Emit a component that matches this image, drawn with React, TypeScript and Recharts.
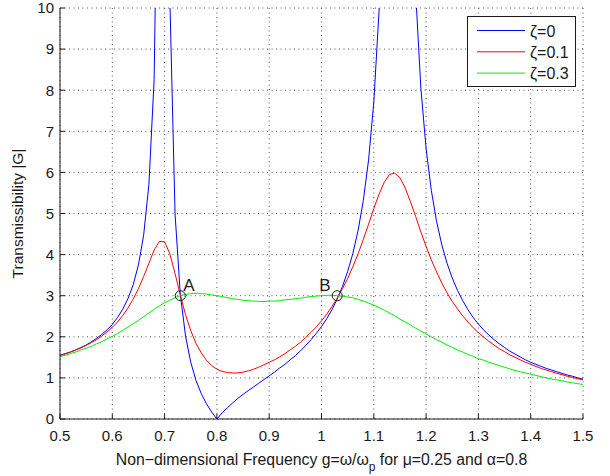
import React from 'react';
import { LineChart, Line, XAxis, YAxis, CartesianGrid, Legend, ReferenceDot, Label } from 'recharts';

// Non-dimensional frequency g = omega / omega_p
const frequencies = [
  0.5, 0.51, 0.52, 0.53, 0.54, 0.55, 0.56, 0.57, 0.58, 0.59,
  0.6, 0.61, 0.62, 0.63, 0.64, 0.65, 0.66, 0.67, 0.68, 0.69,
  0.7, 0.71, 0.72, 0.73, 0.74, 0.75, 0.76, 0.77, 0.78, 0.79,
  0.8, 0.81, 0.82, 0.83, 0.84, 0.85, 0.86, 0.87, 0.88, 0.89,
  0.9, 0.91, 0.92, 0.93, 0.94, 0.95, 0.96, 0.97, 0.98, 0.99,
  1.0, 1.01, 1.02, 1.03, 1.04, 1.05, 1.06, 1.07, 1.08, 1.09,
  1.1, 1.11, 1.12, 1.13, 1.14, 1.15, 1.16, 1.17, 1.18, 1.19,
  1.2, 1.21, 1.22, 1.23, 1.24, 1.25, 1.26, 1.27, 1.28, 1.29,
  1.3, 1.31, 1.32, 1.33, 1.34, 1.35, 1.36, 1.37, 1.38, 1.39,
  1.4, 1.41, 1.42, 1.43, 1.44, 1.45, 1.46, 1.47, 1.48, 1.49,
  1.5,
];

// Transmissibility |G|, zeta = 0
const zeta0 = [
  1.55, 1.59, 1.63, 1.68, 1.74, 1.8, 1.88, 1.96, 2.06, 2.17,
  2.3, 2.47, 2.67, 2.93, 3.27, 3.75, 4.48, 5.71, 8.26, 16.91,
  78.9, 10.25, 4.99, 3.04, 2.02, 1.38, 0.94, 0.62, 0.37, 0.17,
  0, 0.15, 0.27, 0.39, 0.5, 0.6, 0.69, 0.78, 0.87, 0.96,
  1.05, 1.14, 1.24, 1.33, 1.44, 1.54, 1.66, 1.79, 1.93, 2.08,
  2.25, 2.44, 2.66, 2.92, 3.22, 3.59, 4.03, 4.59, 5.32, 6.3,
  7.71, 9.92, 13.84, 22.79, 63.9, 80.2, 24.71, 14.62, 10.38, 8.05,
  6.58, 5.56, 4.81, 4.24, 3.79, 3.43, 3.13, 2.88, 2.66, 2.47,
  2.31, 2.17, 2.04, 1.93, 1.83, 1.74, 1.65, 1.58, 1.51, 1.44,
  1.38, 1.33, 1.28, 1.23, 1.19, 1.15, 1.11, 1.07, 1.04, 1.0,
  0.97,
];

// Transmissibility |G|, zeta = 0.1
const zeta01 = [
  1.54, 1.58, 1.63, 1.68, 1.73, 1.79, 1.86, 1.93, 2.02, 2.12,
  2.23, 2.36, 2.52, 2.7, 2.92, 3.17, 3.47, 3.79, 4.11, 4.32,
  4.31, 4.02, 3.54, 3.02, 2.54, 2.15, 1.84, 1.61, 1.43, 1.3,
  1.21, 1.16, 1.13, 1.12, 1.12, 1.14, 1.17, 1.21, 1.26, 1.32,
  1.38, 1.44, 1.51, 1.59, 1.68, 1.77, 1.87, 1.99, 2.11, 2.24,
  2.39, 2.55, 2.74, 2.94, 3.17, 3.42, 3.71, 4.02, 4.37, 4.74,
  5.12, 5.47, 5.76, 5.95, 5.98, 5.87, 5.62, 5.29, 4.93, 4.55,
  4.2, 3.87, 3.58, 3.31, 3.07, 2.86, 2.68, 2.51, 2.36, 2.22,
  2.1, 1.99, 1.89, 1.8, 1.71, 1.64, 1.56, 1.5, 1.44, 1.38,
  1.33, 1.28, 1.23, 1.19, 1.15, 1.11, 1.08, 1.04, 1.01, 0.98,
  0.95,
];

// Transmissibility |G|, zeta = 0.3
const zeta03 = [
  1.52, 1.55, 1.59, 1.63, 1.68, 1.72, 1.77, 1.83, 1.88, 1.95,
  2.01, 2.08, 2.16, 2.24, 2.32, 2.4, 2.49, 2.58, 2.67, 2.75,
  2.83, 2.89, 2.95, 3.0, 3.03, 3.05, 3.06, 3.05, 3.04, 3.02,
  3.0, 2.98, 2.95, 2.93, 2.91, 2.89, 2.88, 2.87, 2.86, 2.86,
  2.87, 2.87, 2.88, 2.9, 2.91, 2.93, 2.94, 2.96, 2.98, 2.99,
  3.0, 3.01, 3.01, 3.0, 2.99, 2.97, 2.95, 2.91, 2.87, 2.82,
  2.77, 2.71, 2.65, 2.58, 2.51, 2.43, 2.36, 2.29, 2.21, 2.14,
  2.07, 2.0, 1.93, 1.87, 1.8, 1.74, 1.68, 1.63, 1.57, 1.52,
  1.47, 1.43, 1.38, 1.34, 1.3, 1.26, 1.22, 1.18, 1.15, 1.12,
  1.09, 1.06, 1.03, 1.0, 0.97, 0.95, 0.93, 0.9, 0.88, 0.86,
  0.84,
];

const seriesNames = ['ζ=0', 'ζ=0.1', 'ζ=0.3'];
const xTicks = [0.5, 0.6, 0.7, 0.8, 0.9, 1, 1.1, 1.2, 1.3, 1.4, 1.5];
const yTicks = [0, 1, 2, 3, 4, 5, 6, 7, 8, 9, 10];
const fixedPoints = [
  { name: 'A', g: 0.73, value: 3 },
  { name: 'B', g: 1.03, value: 3 },
];

const data = frequencies.map((g, i) => ({
  g,
  z0: zeta0[i],
  z01: zeta01[i],
  z03: zeta03[i],
}));

const FONT = '"Liberation Sans", Arial, Helvetica, sans-serif';
const INK = '#1a1a1a';

const LegendBox = (props: any) => {
  const payload = props.payload || [];
  return (
    <div
      style={{
        width: 109,
        height: 71,
        border: `1px solid ${INK}`,
        background: '#fff',
        boxSizing: 'border-box',
      }}
    >
      <svg width={107} height={69} style={{ display: 'block' }}>
        {payload.map((p: any, i: number) => {
          const y = 13.5 + i * 21.3;
          return (
            <g key={i}>
              <line x1={9} x2={57} y1={y} y2={y} stroke={p.color} strokeWidth={1} />
              <text x={62} y={y + 6} fontSize={16} fontFamily={FONT} fill={INK}>
                {p.value}
              </text>
            </g>
          );
        })}
      </svg>
    </div>
  );
};

const XTitle = (props: any) => {
  const vb = props.viewBox || { x: 60, y: 419, width: 523, height: 57 };
  const cx = vb.x + vb.width / 2;
  return (
    <text x={cx} y={465} textAnchor="middle" fontSize={15.8} fontFamily={FONT} fill={INK}>
      <tspan>Non−dimensional Frequency g=ω/ω</tspan>
      <tspan dy={6} fontSize={12}>p</tspan>
      <tspan dy={-6}> for μ=0.25 and α=0.8</tspan>
    </text>
  );
};

const YTitle = (props: any) => {
  const vb = props.viewBox || { x: 0, y: 8, width: 60, height: 411 };
  const cy = vb.y + vb.height / 2;
  const x = 23;
  return (
    <text
      x={x}
      y={cy}
      textAnchor="middle"
      fontSize={15.5}
      fontFamily={FONT}
      fill={INK}
      transform={`rotate(-90, ${x}, ${cy})`}
    >
      Transmissibility |G|
    </text>
  );
};

const makeMarker = (name: string) => (p: any) => {
  const left = name === 'B';
  return (
    <g>
      <circle cx={p.cx} cy={p.cy} r={5} fill="none" stroke={INK} strokeWidth={1} />
      <text
        x={left ? p.cx - 18 : p.cx + 3}
        y={p.cy - 5}
        fontSize={17}
        fontFamily={FONT}
        fill={INK}
      >
        {name}
      </text>
    </g>
  );
};

const tickStyle = { fontSize: 15, fill: INK, fontFamily: FONT };

export default function App() {
  return (
    <div style={{ position: 'absolute', left: 0, top: 0, width: 610, height: 476, background: '#fff' }}>
      <LineChart
        width={610}
        height={476}
        data={data}
        margin={{ top: 8, right: 27, bottom: 0, left: 0 }}
        style={{ fontFamily: FONT }}
      >
        <CartesianGrid stroke="#555" strokeDasharray="1 3.5" strokeWidth={1} />
        <XAxis
          dataKey="g"
          type="number"
          domain={[0.5, 1.5]}
          ticks={xTicks}
          interval={0}
          allowDataOverflow
          height={57}
          tickSize={-5}
          tickMargin={16}
          tick={tickStyle}
          axisLine={{ stroke: INK }}
          tickLine={{ stroke: INK }}
        >
          <Label content={XTitle} />
        </XAxis>
        <XAxis
          xAxisId="top"
          orientation="top"
          dataKey="g"
          type="number"
          domain={[0.5, 1.5]}
          ticks={xTicks}
          interval={0}
          allowDataOverflow
          height={0}
          tickSize={-5}
          tick={false}
          axisLine={{ stroke: INK }}
          tickLine={{ stroke: INK }}
        />
        <YAxis
          type="number"
          domain={[0, 10]}
          ticks={yTicks}
          interval={0}
          allowDataOverflow
          width={60}
          tickSize={-5}
          tickMargin={11}
          tick={tickStyle}
          axisLine={{ stroke: INK }}
          tickLine={{ stroke: INK }}
        >
          <Label content={YTitle} />
        </YAxis>
        <YAxis
          yAxisId="right"
          orientation="right"
          type="number"
          domain={[0, 10]}
          ticks={yTicks}
          interval={0}
          allowDataOverflow
          width={0}
          tickSize={-5}
          tick={false}
          axisLine={{ stroke: INK }}
          tickLine={{ stroke: INK }}
        />
        <Line
          type="linear"
          dataKey="z0"
          name={seriesNames[0]}
          stroke="#0000ff"
          strokeWidth={1}
          dot={false}
          activeDot={false}
          isAnimationActive={false}
        />
        <Line
          type="linear"
          dataKey="z01"
          name={seriesNames[1]}
          stroke="#ff0000"
          strokeWidth={1}
          dot={false}
          activeDot={false}
          isAnimationActive={false}
        />
        <Line
          type="linear"
          dataKey="z03"
          name={seriesNames[2]}
          stroke="#00ee00"
          strokeWidth={1}
          dot={false}
          activeDot={false}
          isAnimationActive={false}
        />
        {fixedPoints.map((pt) => (
          <ReferenceDot
            key={pt.name}
            x={pt.g}
            y={pt.value}
            r={5}
            shape={makeMarker(pt.name)}
            ifOverflow="visible"
          />
        ))}
        <Legend
          layout="vertical"
          align="center"
          verticalAlign="middle"
          content={LegendBox}
          wrapperStyle={{ position: 'absolute', left: 467, top: 16, width: 109, height: 71 }}
        />
      </LineChart>
    </div>
  );
}
